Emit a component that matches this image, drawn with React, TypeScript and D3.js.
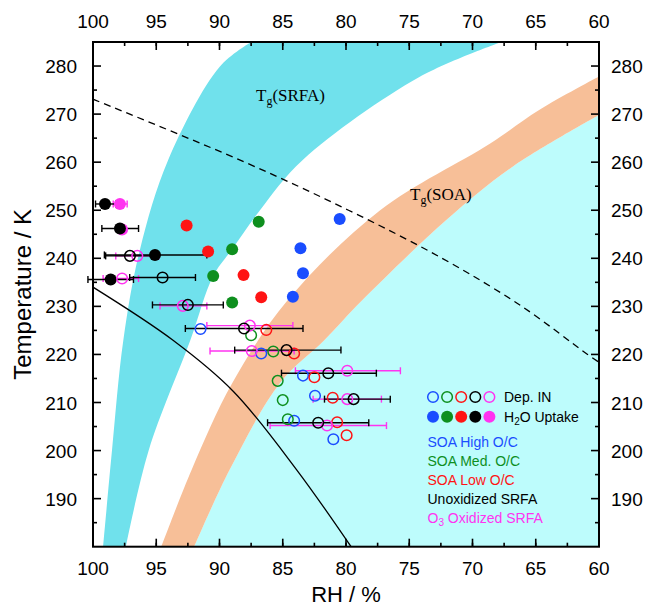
import React from 'react';
import * as d3 from 'd3';

const W = 647;
const H = 607;
const frame = { left: 93, right: 599, top: 42, bottom: 546.7 };

const rhTicks = [100, 95, 90, 85, 80, 75, 70, 65, 60];
const tempTicks = [190, 200, 210, 220, 230, 240, 250, 260, 270, 280];

// band edges, [RH %, T K]
const srfaLeft = [[99.2, 180], [98.5, 200], [97.6, 223], [96.3, 241.7], [94.05, 260.5], [90.0, 279.8], [87.5, 285]];
const srfaRight = [[97.4, 180], [95.6, 200], [92.3, 223], [90.5, 236.3], [89.0, 241.9], [86.8, 250], [83.4, 260.5], [74.2, 277.7], [67.7, 285]];
const soaLeft = [[94.6, 180], [92.2, 196], [89.0, 214], [84.6, 231.3], [77.3, 250], [68.6, 263.9], [64.7, 270.9], [60, 277.8]];
const soaRight = [[92.0, 180], [89.2, 196], [85.2, 214.1], [81.7, 223], [78.7, 231.3], [72.05, 248], [66.8, 259.1], [60, 269.8]];

// ice saturation (dashed) and homogeneous freezing (solid)
const iceSat = [[100, 273.1], [88, 260], [79.8, 250], [72.4, 240], [66.1, 230], [60.9, 220], [59.5, 217.5]];
const homFreeze = [[100, 234.0], [93.7, 223], [88.9, 212.3], [83.9, 196], [79.6, 180]];

// Dep. IN (open) : [RH, T, errLo, errHi]
const depBlue = [[91.5, 225.3], [86.7, 220.2], [83.4, 215.6], [82.45, 211.4], [84.1, 206.2], [81.0, 202.35]];
const depGreen = [[87.5, 224.0], [85.75, 220.6], [85.4, 214.5], [85.0, 210.5], [84.6, 206.5]];
const depRed = [[86.3, 225.1], [84.1, 220.2], [82.5, 215.25], [81.05, 211.0], [80.7, 205.9], [79.95, 203.2]];
const depMagenta = [
  [96.5, 240.5, 98.2, 94.8], [97.7, 235.8, 99.2, 96.4], [92.9, 230.1, 94.7, 91.0], [87.6, 226.0, 91.0, 84.2],
  [87.45, 220.7, 90.75, 84.1], [79.9, 216.6, 84.0, 75.7], [79.9, 210.7, 82.6, 77.2], [81.5, 205.2, 86.0, 76.8],
];
const depBlack = [
  [97.08, 240.5, 99.0, 95.2], [94.5, 236.0, 97.1, 91.9], [92.5, 230.3, 95.3, 89.7], [88.06, 225.4, 92.7, 83.4],
  [84.7, 220.9, 88.8, 80.4], [81.4, 216.1, 85.1, 77.6], [79.4, 210.7, 81.7, 76.5], [82.2, 205.8, 86.2, 78.2],
];

// H2O uptake (filled)
const upBlue = [[80.5, 248.2], [83.6, 242.1], [83.4, 236.9], [84.2, 232.0]];
const upGreen = [[86.9, 247.6], [89.0, 241.9], [90.5, 236.3], [89.0, 230.8]];
const upRed = [[92.6, 246.8], [90.9, 241.4], [88.1, 236.5], [86.7, 231.9]];
const upMagenta = [[97.87, 251.3, 98.4, 97.3], [97.7, 246.0]];
const upBlack = [[99.05, 251.3, 99.8, 98.2], [97.87, 246.2, 99.3, 96.4], [95.1, 240.7, 99.1, 91.0], [98.6, 235.6, 100.4, 96.8]];

const C = { blue: '#1a4dff', green: '#0e8f1e', red: '#ff1414', black: '#000000', magenta: '#ff33f0' };
const legendColors = [C.blue, C.green, C.red, C.black, C.magenta];
const legendNames = ['SOA High O/C', 'SOA Med. O/C', 'SOA Low O/C', 'Unoxidized SRFA', 'O3 Oxidized SRFA'];

const x = d3.scaleLinear().domain([100, 60]).range([frame.left, frame.right]);
const y = d3.scaleLinear().domain([180, 285]).range([frame.bottom, frame.top]);

const line = d3.line<number[]>().x(d => x(d[0])).y(d => y(d[1])).curve(d3.curveCatmullRom.alpha(0.5));

const band = (a: number[][], b: number[][]) =>
  line(a) + 'L' + (line([...b].reverse()) as string).slice(1) + 'Z';

const sans = 'Liberation Sans, Arial, Helvetica, sans-serif';
const serif = 'Liberation Serif, Times New Roman, serif';

const ErrBars = ({ pts, color }: { pts: number[][]; color: string }) => (
  <g stroke={color} strokeWidth={1.4}>
    {pts.filter(p => p.length > 2).map((p, i) => (
      <g key={i}>
        <line x1={x(p[2])} x2={x(p[3])} y1={y(p[1])} y2={y(p[1])} />
        <line x1={x(p[2])} x2={x(p[2])} y1={y(p[1]) - 3.5} y2={y(p[1]) + 3.5} />
        <line x1={x(p[3])} x2={x(p[3])} y1={y(p[1]) - 3.5} y2={y(p[1]) + 3.5} />
      </g>
    ))}
  </g>
);

const Open = ({ pts, color }: { pts: number[][]; color: string }) => (
  <g fill="none" stroke={color} strokeWidth={1.5}>
    {pts.map((p, i) => <circle key={i} cx={x(p[0])} cy={y(p[1])} r={5.3} />)}
  </g>
);

const Filled = ({ pts, color }: { pts: number[][]; color: string }) => (
  <g fill={color}>
    {pts.map((p, i) => <circle key={i} cx={x(p[0])} cy={y(p[1])} r={6} />)}
  </g>
);

export default function App() {
  const xMinor = d3.range(60, 100.1, 2.5);
  const yMinor = d3.range(185, 285, 10);
  const lx = 433;
  const lgap = 14.1;
  return (
    <svg width={W} height={H} style={{ position: 'absolute', left: 0, top: 0, background: '#fff' }}>
      <defs>
        <clipPath id="plot">
          <rect x={frame.left} y={frame.top} width={frame.right - frame.left} height={frame.bottom - frame.top} />
        </clipPath>
      </defs>
      <g clipPath="url(#plot)">
        <path d={line(soaRight) + `L${x(60)},${y(180)}Z`} fill="#bdfcfc" />
        <path d={band(soaLeft, soaRight)} fill="#f7bf98" />
        <path d={band(srfaLeft, srfaRight)} fill="#70e1ec" />
        <path d={line(iceSat) as string} fill="none" stroke="#000" strokeWidth={1.3} strokeDasharray="7,5" />
        <path d={line(homFreeze) as string} fill="none" stroke="#000" strokeWidth={1.3} />
      </g>

      <text x={256} y={101} fontFamily={serif} fontSize={17}>
        T<tspan fontSize={12} dy={4}>g</tspan><tspan dy={-4}>(SRFA)</tspan>
      </text>
      <text x={410} y={200} fontFamily={serif} fontSize={17}>
        T<tspan fontSize={12} dy={4}>g</tspan><tspan dy={-4}>(SOA)</tspan>
      </text>

      <ErrBars pts={depMagenta} color={C.magenta} />
      <ErrBars pts={upMagenta} color={C.magenta} />
      <ErrBars pts={depBlack} color={C.black} />
      <ErrBars pts={upBlack} color={C.black} />

      <Filled pts={upBlue} color={C.blue} />
      <Filled pts={upGreen} color={C.green} />
      <Filled pts={upRed} color={C.red} />
      <Filled pts={upMagenta} color={C.magenta} />
      <Filled pts={upBlack} color={C.black} />

      <Open pts={depBlue} color={C.blue} />
      <Open pts={depGreen} color={C.green} />
      <Open pts={depRed} color={C.red} />
      <Open pts={depMagenta} color={C.magenta} />
      <Open pts={depBlack} color={C.black} />

      {/* legend */}
      {legendColors.map((c, i) => (
        <g key={i}>
          <circle cx={lx + i * lgap} cy={397} r={5.3} fill="none" stroke={c} strokeWidth={1.5} />
          <circle cx={lx + i * lgap} cy={416.7} r={6} fill={c} />
        </g>
      ))}
      <g fontFamily={sans} fontSize={14}>
        <text x={504} y={402}>Dep. IN</text>
        <text x={504} y={421.7}>H<tspan fontSize={10} dy={3}>2</tspan><tspan dy={-3}>O Uptake</tspan></text>
        {legendNames.map((n, i) => (
          <text key={n} x={427.5} y={446.5 + i * 19.2} fill={legendColors[i]}>
            {n.startsWith('O3') ? (
              <>O<tspan fontSize={10} dy={3}>3</tspan><tspan dy={-3}>{n.slice(2)}</tspan></>
            ) : n}
          </text>
        ))}
      </g>

      {/* frame and ticks */}
      <rect x={frame.left} y={frame.top} width={frame.right - frame.left} height={frame.bottom - frame.top}
        fill="none" stroke="#000" strokeWidth={2} />
      <g stroke="#000" strokeWidth={1.6}>
        {rhTicks.map(t => (
          <g key={t}>
            <line x1={x(t)} x2={x(t)} y1={frame.bottom} y2={frame.bottom - 8} />
            <line x1={x(t)} x2={x(t)} y1={frame.top} y2={frame.top + 8} />
          </g>
        ))}
        {xMinor.map(t => (
          <g key={t}>
            <line x1={x(t)} x2={x(t)} y1={frame.bottom} y2={frame.bottom - 4} />
            <line x1={x(t)} x2={x(t)} y1={frame.top} y2={frame.top + 4} />
          </g>
        ))}
        {tempTicks.map(t => (
          <g key={t}>
            <line x1={frame.left} x2={frame.left + 8} y1={y(t)} y2={y(t)} />
            <line x1={frame.right} x2={frame.right - 8} y1={y(t)} y2={y(t)} />
          </g>
        ))}
        {yMinor.map(t => (
          <g key={t}>
            <line x1={frame.left} x2={frame.left + 4} y1={y(t)} y2={y(t)} />
            <line x1={frame.right} x2={frame.right - 4} y1={y(t)} y2={y(t)} />
          </g>
        ))}
      </g>
      <g fontFamily={sans} fontSize={19} fill="#000">
        {rhTicks.map(t => (
          <g key={t}>
            <text x={x(t)} y={575} textAnchor="middle">{t}</text>
            <text x={x(t)} y={28} textAnchor="middle">{t}</text>
          </g>
        ))}
        {tempTicks.map(t => (
          <g key={t}>
            <text x={77} y={y(t) + 7} textAnchor="end">{t}</text>
            <text x={611} y={y(t) + 7}>{t}</text>
          </g>
        ))}
      </g>
      <text x={(frame.left + frame.right) / 2} y={602} textAnchor="middle" fontFamily={sans} fontSize={22}>RH / %</text>
      <text transform={`translate(31,${(frame.top + frame.bottom) / 2}) rotate(-90)`} textAnchor="middle"
        fontFamily={sans} fontSize={24}>Temperature / K</text>
    </svg>
  );
}
